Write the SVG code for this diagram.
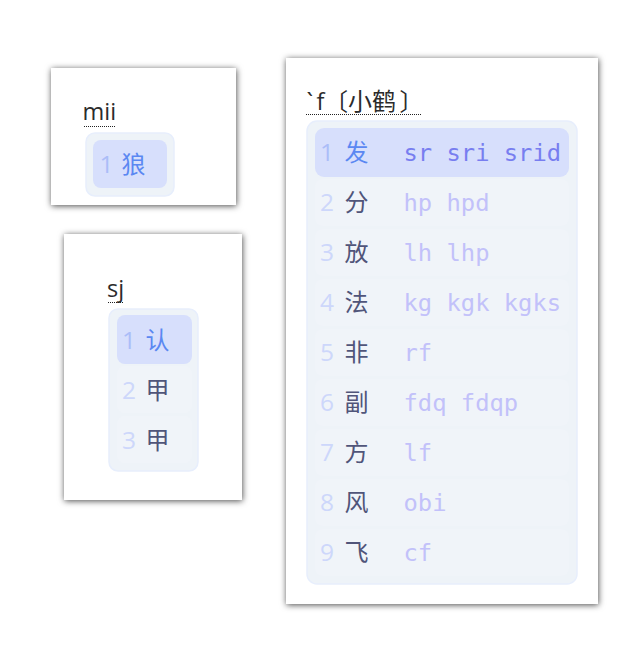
<svg xmlns="http://www.w3.org/2000/svg" width="641" height="651" viewBox="0 0 641 651">
  <defs>
    <filter id="shadow" x="-20%" y="-20%" width="140%" height="140%">
      <feDropShadow dx="0.5" dy="1" stdDeviation="3" flood-color="#000" flood-opacity="0.7"/>
    </filter>
    <style>
      .win { fill: #ffffff; filter: url(#shadow); }
      .panel { fill: #eef3f8; stroke: #e7eefc; stroke-width: 1.5; }
      .hl { fill: #d7dffc; }
      .row { fill: #f0f4f9; }
      .pre { font-family: "Open Sans", "Noto Sans CJK SC", sans-serif; font-size: 23.5px; fill: #2b2b2b; }
      .ul { stroke: #222; stroke-width: 1; stroke-dasharray: 1 1; }
      .idx { font-family: "Open Sans", sans-serif; font-size: 24.5px; fill: #cdd7fb; }
      .idx-h { font-family: "Open Sans", sans-serif; font-size: 24.5px; fill: #abbdf8; }
      .ch { font-family: "Noto Sans CJK SC", sans-serif; font-size: 24px; fill: #50557a; }
      .ch-h { font-family: "Noto Sans CJK SC", sans-serif; font-size: 24px; fill: #5b88f2; }
      .code { font-family: "DejaVu Sans Mono", monospace; font-size: 23.8px; fill: #c2c1fa; }
      .code-h { font-family: "DejaVu Sans Mono", monospace; font-size: 23.8px; fill: #787ef0; }
    </style>
  </defs>

  <g id="window-mii">
    <rect class="win" x="51" y="68" width="185" height="137"/>
    <text class="pre" x="82.5" y="120">mii</text>
    <line class="ul" x1="84" y1="126.5" x2="116" y2="126.5"/>
    <rect class="panel" x="86" y="133" width="88" height="63" rx="9"/>
    <rect class="hl" x="93" y="140" width="74" height="48" rx="8"/>
    <text class="idx-h" x="99.5" y="172.5">1</text>
    <text class="ch-h" x="121.5" y="172.5">狼</text>
  </g>

  <g id="window-sj">
    <rect class="win" x="64" y="234" width="178" height="266"/>
    <text class="pre" x="107" y="297">sj</text>
    <line class="ul" x1="108" y1="302.5" x2="123" y2="302.5"/>
    <rect class="panel" x="109" y="309" width="89" height="162" rx="9"/>
    <rect class="row" x="117" y="366" width="75" height="47" rx="7"/>
    <rect class="row" x="117" y="416" width="75" height="47" rx="7"/>
    <rect class="hl" x="117" y="315" width="75" height="49" rx="8"/>
    <text class="idx-h" x="122" y="348.5">1</text>
    <text class="ch-h" x="145.5" y="348.5">认</text>
    <text class="idx" x="122" y="398.5">2</text>
    <text class="ch" x="145.5" y="398.5">甲</text>
    <text class="idx" x="122" y="448.5">3</text>
    <text class="ch" x="145.5" y="448.5">甲</text>
  </g>

  <g id="window-f">
    <rect class="win" x="286" y="58" width="312" height="546"/>
    <text class="pre" y="109.5"><tspan x="306.5">`</tspan><tspan x="316.5">f</tspan><tspan x="324" font-family="Noto Sans CJK TC, sans-serif" font-size="24">〔</tspan><tspan x="348" font-family="Noto Sans CJK SC, sans-serif" font-size="24">小鹤</tspan><tspan x="399.5" font-family="Noto Sans CJK TC, sans-serif" font-size="24">〕</tspan></text>
    <line class="ul" x1="306" y1="114.5" x2="421" y2="114.5"/>
    <rect class="panel" x="307" y="121" width="270" height="463" rx="10"/>
    <rect class="row" x="315" y="179" width="254" height="47" rx="8"/>
    <rect class="row" x="315" y="229" width="254" height="47" rx="8"/>
    <rect class="row" x="315" y="279" width="254" height="47" rx="8"/>
    <rect class="row" x="315" y="329" width="254" height="47" rx="8"/>
    <rect class="row" x="315" y="379" width="254" height="47" rx="8"/>
    <rect class="row" x="315" y="429" width="254" height="47" rx="8"/>
    <rect class="row" x="315" y="479" width="254" height="47" rx="8"/>
    <rect class="row" x="315" y="529" width="254" height="47" rx="8"/>
    <rect class="hl" x="315" y="128" width="254" height="49" rx="9"/>

    <text class="idx-h" x="320" y="161">1</text>
    <text class="ch-h" x="344.5" y="161">发</text>
    <text class="code-h" x="403.5" y="161">sr sri srid</text>

    <text class="idx" x="320" y="211">2</text>
    <text class="ch" x="344.5" y="211">分</text>
    <text class="code" x="403.5" y="211">hp hpd</text>

    <text class="idx" x="320" y="261">3</text>
    <text class="ch" x="344.5" y="261">放</text>
    <text class="code" x="403.5" y="261">lh lhp</text>

    <text class="idx" x="320" y="311">4</text>
    <text class="ch" x="344.5" y="311">法</text>
    <text class="code" x="403.5" y="311">kg kgk kgks</text>

    <text class="idx" x="320" y="361">5</text>
    <text class="ch" x="344.5" y="361">非</text>
    <text class="code" x="403.5" y="361">rf</text>

    <text class="idx" x="320" y="411">6</text>
    <text class="ch" x="344.5" y="411">副</text>
    <text class="code" x="403.5" y="411">fdq fdqp</text>

    <text class="idx" x="320" y="461">7</text>
    <text class="ch" x="344.5" y="461">方</text>
    <text class="code" x="403.5" y="461">lf</text>

    <text class="idx" x="320" y="511">8</text>
    <text class="ch" x="344.5" y="511">风</text>
    <text class="code" x="403.5" y="511">obi</text>

    <text class="idx" x="320" y="561">9</text>
    <text class="ch" x="344.5" y="561">飞</text>
    <text class="code" x="403.5" y="561">cf</text>
  </g>
</svg>
